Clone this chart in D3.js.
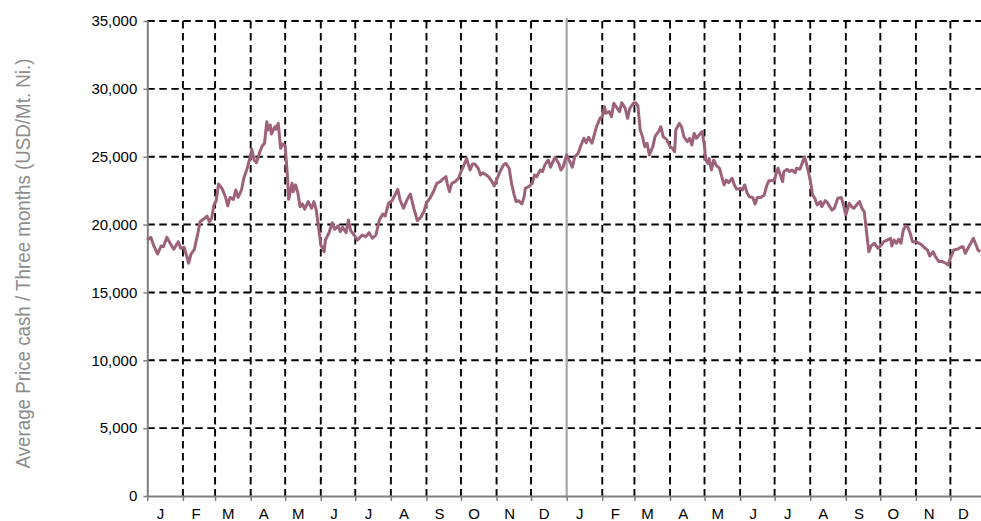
<!DOCTYPE html>
<html>
<head>
<meta charset="utf-8">
<script src="https://cdn.jsdelivr.net/npm/d3@7"></script>
<style>
  body { margin: 0; background: #fff; }
  svg { display: block; font-family: "Liberation Sans", Arial, sans-serif; }
</style>
</head>
<body>
<svg id="chart" width="981" height="521"></svg>
<script>
// days counted from 1 Jan 2010, daily LME nickel price (USD/t)
const dayIndex = [
  0, 3, 6, 9, 12, 14, 17, 20, 23, 27, 29, 32, 34, 36, 38, 41, 44, 46, 50, 52,
  54, 56, 58, 60, 62, 65, 68, 70, 72, 75, 77, 79, 82, 84, 87, 90, 91, 93, 95, 98,
  100, 102, 104, 105, 107, 108, 111, 112, 114, 116, 118, 120, 122, 123, 126, 127, 129, 131, 133, 135,
  137, 140, 143, 145, 147, 149, 151, 154, 155, 158, 161, 163, 166, 168, 170, 173, 175, 177, 180, 183,
  187, 190, 193, 196, 199, 202, 205, 207, 210, 213, 216, 218, 220, 223, 226, 229, 232, 235, 238, 241,
  243, 246, 249, 252, 255, 257, 260, 261, 263, 265, 268, 271, 273, 275, 278, 279, 281, 283, 285, 288,
  290, 292, 295, 297, 300, 302, 304, 307, 310, 312, 315, 317, 319, 321, 323, 326, 328, 329, 332, 335,
  337, 339, 342, 344, 346, 349, 351, 353, 355, 358, 360, 362, 365, 367, 370, 372, 375, 377, 380, 382,
  384, 387, 389, 391, 394, 396, 398, 399, 402, 404, 406, 409, 411, 413, 416, 418, 420, 423, 425, 427,
  429, 431, 433, 435, 437, 440, 442, 445, 447, 449, 452, 455, 457, 459, 460, 463, 465, 467, 470, 472,
  474, 476, 478, 481, 483, 485, 486, 488, 489, 491, 493, 495, 498, 500, 502, 504, 506, 509, 511, 513,
  516, 518, 520, 522, 524, 527, 529, 531, 534, 537, 539, 541, 543, 546, 547, 549, 551, 553, 554, 557,
  559, 561, 564, 565, 568, 570, 572, 574, 576, 578, 579, 581, 583, 586, 587, 590, 592, 594, 596, 598,
  601, 604, 606, 608, 611, 613, 615, 618, 620, 622, 624, 626, 628, 630, 633, 636, 639, 641, 644, 647,
  648, 650, 652, 654, 656, 658, 660, 662, 664, 666, 669, 672, 674, 677, 679, 681, 684, 686, 689, 692,
  695, 697, 699, 702, 705, 708, 710, 712, 715, 717, 719, 721, 723, 725
]
const priceUsd = [
  18860, 19060, 18370, 17830, 18420, 18370, 19060, 18600, 18180, 18740, 18250, 18330, 17760, 17150, 17830, 18180, 19360, 20220, 20460, 20630,
  20220, 20460, 21440, 21760, 22990, 22670, 22050, 21370, 22000, 21860, 22550, 22000, 22550, 23410, 24150, 25130, 25550, 24760, 24560, 25370,
  25790, 25990, 27580, 26970, 27340, 26670, 27210, 27020, 27460, 25620, 25940, 25790, 23530, 21860, 23040, 22420, 22920, 22350, 21320, 21520,
  21130, 21690, 21200, 21690, 21100, 19850, 18500, 18000, 18860, 19360, 20140, 19650, 19900, 19480, 19800, 19400, 20340, 19550, 19230, 18860,
  19230, 19100, 19400, 18990, 19230, 20340, 20780, 20630, 21570, 21760, 22250, 22600, 21810, 21200, 21810, 22250, 21200, 20290, 20530, 21020,
  21610, 21940, 22420, 23040, 23160, 23340, 23530, 23040, 22420, 23040, 23160, 23410, 23900, 24260, 24880, 24560, 24020, 24460, 24460, 24150,
  23650, 23820, 23650, 23530, 23160, 22840, 23280, 23900, 24390, 24510, 24150, 23040, 22300, 21690, 21760, 21520, 22050, 22670, 22790, 23040,
  23650, 23530, 24020, 23900, 24390, 24760, 24220, 24630, 24960, 24510, 24020, 24260, 25130, 24760, 24220, 25000, 25250, 25740, 26360, 26030,
  26430, 25990, 26600, 27210, 27830, 27950, 28690, 28200, 28320, 27950, 28940, 28570, 28320, 28980, 28570, 27830, 28570, 28940, 28980, 28740,
  26970, 26480, 25740, 25990, 25130, 25740, 26500, 26850, 27210, 26480, 26280, 25740, 25620, 25370, 26970, 27460, 27210, 26480, 26110, 26360,
  25860, 26720, 26360, 26670, 26850, 25740, 24760, 24510, 24880, 24020, 24760, 24390, 24150, 23530, 22920, 23280, 23090, 23410, 22920, 22600,
  22670, 22550, 22920, 22350, 22050, 22000, 21520, 22000, 22000, 22180, 22840, 23230, 23230, 23280, 23650, 24150, 23650, 23160, 23900, 24080,
  23900, 24020, 23820, 24150, 24080, 24510, 25000, 24390, 23650, 22790, 22180, 21940, 21440, 21690, 21320, 21760, 21620, 21320, 21070, 21200,
  21940, 22000, 21440, 20710, 21570, 21320, 21200, 21520, 21690, 21200, 20950, 19480, 18000, 18420, 18620, 18250, 18500, 18740, 18860, 18990,
  18420, 18860, 18620, 18910, 18620, 19600, 19900, 19800, 19360, 18740, 18740, 18620, 18500, 18250, 18130, 17680, 18000, 17640, 17270, 17270,
  17150, 17020, 17520, 18130, 18180, 18330, 18370, 17880, 18370, 18670, 18990, 18570, 18130, 18000
]
const monthLetters = ["J", "F", "M", "A", "M", "J", "J", "A", "S", "O", "N", "D"]
const yTickValues = [0, 5000, 10000, 15000, 20000, 25000, 30000, 35000]
const yTitle = "Average Price cash / Three months (USD/Mt. Ni.)"

const start = new Date(Date.UTC(2010, 0, 1))
const end = new Date(Date.UTC(2012, 0, 1))

const svg = d3.select("#chart")

const x = d3.scaleUtc().domain([start, end]).range([147.3, 986])
const y = d3.scaleLinear().domain([0, 35000]).range([496, 21])

const series = dayIndex.map((d, i) => ({ date: d3.utcDay.offset(start, d), value: priceUsd[i] }))
const monthStarts = d3.utcMonth.range(start, end)
const yearStart2011 = new Date(Date.UTC(2011, 0, 1))

// horizontal dashed grid
svg.append("g")
  .selectAll("line")
  .data(yTickValues.filter(v => v > 0))
  .enter()
  .append("line")
  .attr("x1", x(start))
  .attr("x2", x(end))
  .attr("y1", d => y(d))
  .attr("y2", d => y(d))
  .attr("stroke", "#000")
  .attr("stroke-width", 1.9)
  .attr("stroke-dasharray", "7.5,4.5")

// vertical dashed grid (one per month)
svg.append("g")
  .selectAll("line")
  .data(monthStarts.filter(d => d.getUTCMonth() !== 0))
  .enter()
  .append("line")
  .attr("x1", d => x(d))
  .attr("x2", d => x(d))
  .attr("y1", y(35000))
  .attr("y2", y(0))
  .attr("stroke", "#000")
  .attr("stroke-width", 1.9)
  .attr("stroke-dasharray", "7.5,4.5")

// year separator
svg.append("line")
  .attr("x1", x(yearStart2011))
  .attr("x2", x(yearStart2011))
  .attr("y1", y(35000) - 3)
  .attr("y2", y(0))
  .attr("stroke", "#a6a6a6")
  .attr("stroke-width", 2.2)

// y axis
const yAxis = svg.append("g")
  .attr("transform", `translate(${x(start)},0)`)
  .call(d3.axisLeft(y).tickValues(yTickValues).tickSize(4).tickSizeOuter(0).tickPadding(6).tickFormat(d3.format(",")))
yAxis.select(".domain").attr("stroke", "#7f7f7f").attr("stroke-width", 2)
yAxis.selectAll(".tick line").attr("stroke", "#7f7f7f").attr("stroke-width", 1.5)
yAxis.selectAll("text").attr("font-size", 15).attr("fill", "#000")

// x axis
const xAxis = svg.append("g")
  .attr("transform", `translate(0,${y(0)})`)
  .call(d3.axisBottom(x).tickValues(monthStarts).tickSize(5).tickSizeOuter(0).tickFormat(""))
xAxis.select(".domain").attr("stroke", "#7f7f7f").attr("stroke-width", 2)
xAxis.selectAll(".tick line").attr("stroke", "#7f7f7f").attr("stroke-width", 1.5)

// month letters
const labelAxis = svg.append("g")
  .attr("transform", `translate(0,${y(0)})`)
  .call(d3.axisBottom(x)
    .tickValues(monthStarts.map(d => d3.utcDay.offset(d, 11)))
    .tickSize(0)
    .tickPadding(12)
    .tickFormat(d => monthLetters[d.getUTCMonth()]))
labelAxis.select(".domain").remove()
labelAxis.selectAll("text").attr("font-size", 15).attr("fill", "#000")

// price line
svg.append("path")
  .datum(series)
  .attr("fill", "none")
  .attr("stroke", "#9d6179")
  .attr("stroke-width", 3)
  .attr("stroke-linejoin", "round")
  .attr("d", d3.line().x(d => x(d.date)).y(d => y(d.value)))

// y title
svg.append("text")
  .attr("transform", `translate(30,${(y(0) + y(35000)) / 2 + 5}) rotate(-90)`)
  .attr("text-anchor", "middle")
  .attr("font-size", 19.5)
  .attr("textLength", 410)
  .attr("lengthAdjust", "spacingAndGlyphs")
  .attr("fill", "#8c8c8c")
  .text(yTitle)
</script>
</body>
</html>
